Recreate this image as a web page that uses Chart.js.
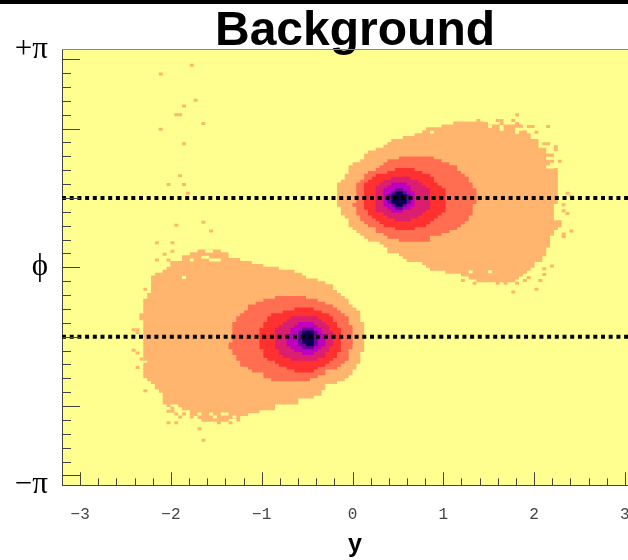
<!DOCTYPE html>
<html>
<head>
<meta charset="utf-8">
<style>
html, body { margin: 0; padding: 0; background: #fff; overflow: hidden; width: 628px; height: 560px; }
#topbar { position: absolute; left: 0; top: 0; width: 628px; height: 4px; background: #000; }
#wrap { position: absolute; left: 0; top: 0; width: 628px; height: 560px; overflow: hidden; }
</style>
<script src="https://cdn.jsdelivr.net/npm/chart.js@4/dist/chart.umd.min.js"></script>
</head>
<body>
<div id="wrap"><canvas id="chart" width="777" height="560"></canvas></div>
<div id="topbar"></div>
<script>
// tick labels
var xTicks = [-3, -2, -1, 0, 1, 2, 3];
var yTicks = [-Math.PI, 0, Math.PI];
var yTickLabels = ["\u2212\u03C0", "\u03D5", "+\u03C0"];
var dottedPhi = [1, -1];

// histogram is 150 x 150 bins. rows are [row from the top, first bin edge, last bin edge]
var orangeRight = [[25,101,109],[26,98,119],[27,94,119],[28,93,120],[29,91,121],[30,88,121],[31,85,123],[32,84,123],[33,83,123],[34,81,125],[35,79,125],[36,78,127],[37,78,127],[38,77,127],[39,75,127],[40,74,127],[41,74,128],[42,74,128],[43,73,128],[44,73,128],[45,72,128],[46,71,128],[47,71,128],[48,71,128],[49,71,128],[50,71,128],[51,71,128],[52,71,128],[53,71,127],[54,72,127],[55,72,127],[56,72,127],[57,73,127],[58,74,127],[59,74,129],[60,74,129],[61,75,128],[62,76,127],[63,77,127],[64,78,126],[65,79,126],[66,82,126],[67,83,126],[68,84,125],[69,84,125],[70,87,125],[71,88,124],[72,89,124],[73,93,122],[74,94,122],[75,95,121],[76,99,120],[77,103,119],[78,105,118],[79,107,117]];
var orangeLeft = [[69,35,41],[70,33,43],[71,31,43],[72,31,46],[73,28,49],[74,28,52],[75,27,56],[76,26,60],[77,24,62],[78,23,63],[79,23,66],[80,23,68],[81,23,70],[82,23,70],[83,23,71],[84,22,72],[85,22,73],[86,21,74],[87,21,74],[88,21,75],[89,21,76],[90,21,77],[91,20,77],[92,20,77],[93,21,77],[94,21,78],[95,21,78],[96,21,78],[97,21,78],[98,21,78],[99,21,78],[100,21,78],[101,21,78],[102,21,78],[103,21,78],[104,21,77],[105,21,77],[106,21,77],[107,22,77],[108,21,76],[109,21,76],[110,21,75],[111,21,75],[112,21,74],[113,22,73],[114,23,71],[115,24,68],[116,25,68],[117,25,67],[118,26,67],[119,26,65],[120,26,61],[121,26,61],[122,30,55],[123,31,55],[124,33,51],[125,34,48],[126,35,46],[127,36,43]];
// single stray bins, [row, bin]
var orangeStray = [[5,33],[8,25],[17,34],[19,31],[22,29],[22,30],[25,36],[27,25],[32,31],[43,30],[46,27],[46,31],[49,32],[60,29],[59,36],[62,38],[66,24],[66,28],[69,28],[70,26],[72,24],[72,27],[73,28],[76,26],[82,21],[86,21],[96,18],[96,19],[97,19],[103,18],[104,19],[106,20],[109,19],[117,21],[116,24],[128,27],[128,29],[130,35],[134,36],[128,40],[128,43],
  [122,27],[123,28],[124,27],[124,28],[125,29],[126,30],[125,31],[125,33],[126,33],[127,45],
  [24,107],[24,112],[24,113],[22,117],[24,116],[25,117],[25,109],[25,113],[26,120],[26,121],[26,125],[28,122],[32,124],[32,125],[33,127],[34,127],[38,128],[49,130],[50,131],[53,129],[55,129],[56,130],[62,131],[63,129],[64,129],[74,126],[75,124],[77,124],[79,123],[82,122],[80,117],[83,116],[80,114],[80,112],[79,111],[80,106],[79,103],[78,120],[79,119]];
// yellow bins left open inside the orange, [row, bin]
var orangeHoles = [[28,95],[78,31],[71,36],[71,37],[69,37],[69,38],[72,33],[72,38],[72,39],[72,40],[125,35],[125,38],[125,41],[125,42],[126,39],[126,44],
  [26,110],[26,113],[27,113],[27,117],[27,118],[28,117],[37,125],[37,126],[39,126],[40,125],[40,126],[76,105],[76,110]];

var coralRight = [[37,87,96],[38,84,98],[39,83,100],[40,82,102],[41,81,102],[42,79,103],[43,78,104],[44,78,105],[45,77,105],[46,76,106],[47,76,106],[48,76,107],[49,76,107],[50,76,107],[51,76,107],[52,76,107],[53,75,106],[54,76,106],[55,76,106],[56,76,106],[57,77,105],[58,77,105],[59,78,104],[60,79,103],[61,81,102],[62,81,100],[63,83,98],[64,84,95],[65,87,95]];
var coralLeft = [[85,55,63],[86,52,66],[87,50,68],[88,48,70],[89,48,71],[90,47,72],[91,46,73],[92,45,74],[93,45,74],[94,44,74],[95,44,75],[96,44,75],[97,44,75],[98,44,75],[99,44,75],[100,44,75],[101,43,75],[102,43,75],[103,44,74],[104,44,74],[105,45,74],[106,45,74],[107,46,73],[108,46,72],[109,48,71],[110,49,68],[111,52,68],[112,52,66],[113,54,64]];
var redRight = [[41,86,91],[42,84,93],[43,81,95],[44,80,96],[45,79,96],[46,78,97],[47,78,98],[48,78,99],[49,78,99],[50,78,99],[51,78,99],[52,78,99],[53,78,99],[54,78,99],[55,79,99],[56,79,98],[57,80,97],[58,81,96],[59,82,95],[60,83,94],[61,86,91]];
var redLeft = [[89,60,65],[90,57,67],[91,54,69],[92,53,70],[93,53,70],[94,52,71],[95,52,71],[96,51,72],[97,51,72],[98,51,72],[99,51,72],[100,51,72],[101,51,72],[102,51,72],[103,52,72],[104,52,71],[105,52,71],[106,53,70],[107,55,69],[108,56,68],[109,58,66],[110,60,65]];
var crimsonRight = [[44,85,90],[45,83,92],[46,82,93],[47,81,94],[48,81,95],[49,81,95],[50,81,95],[51,81,95],[52,81,95],[53,81,95],[54,81,95],[55,81,94],[56,83,93],[57,84,92],[58,86,90]];
var crimsonLeft = [[92,59,66],[93,58,67],[94,57,68],[95,56,69],[96,55,69],[97,55,70],[98,55,70],[99,55,70],[100,55,70],[101,55,70],[102,55,69],[103,56,69],[104,56,68],[105,57,68],[106,59,66]];
var magentaRight = [[46,85,89],[47,84,90],[48,83,90],[49,83,91],[50,83,91],[51,83,91],[52,83,91],[53,83,91],[54,84,90],[55,85,88]];
var magentaLeft = [[94,61,65],[95,60,66],[96,59,67],[97,59,67],[98,58,68],[99,58,68],[100,58,68],[101,58,68],[102,59,67],[103,60,66],[104,62,65]];
var purpleRight = [[48,86,88],[49,85,89],[50,84,90],[51,84,90],[52,84,90],[53,85,89],[54,86,88]];
var purpleLeft = [[96,62,65],[97,61,66],[98,61,66],[99,61,66],[100,61,66],[101,61,66],[102,62,65]];
var navyRight = [[49,86,88],[50,85,89],[51,85,89],[52,85,89],[53,86,88]];
var navyLeft = [[97,62,65],[98,62,65],[99,62,65],[100,62,65],[101,63,65]];

function binX(i) { return -3.2 + i * 6.4 / 150; }
function binPhi(r) { return Math.PI - (r + 0.5) * 2 * Math.PI / 150; }
function toBars(rows) {
    return rows.map(function (r) { return { x: [binX(r[1]), binX(r[2])], y: binPhi(r[0]) }; });
}
function cellBars(cells) {
    return cells.map(function (c) { return { x: [binX(c[1]), binX(c[1] + 1)], y: binPhi(c[0]) }; });
}
// rows overlap a little so no seams show between them
function level(rows, color, order, thick) {
    return { type: "bar", data: rows, backgroundColor: color, barThickness: thick || 3.9, inflateAmount: 0, borderWidth: 0, grouped: false, order: order };
}
function dotted(phi) {
    return {
        type: "line", data: [{ x: -3.2, y: phi }, { x: 3.2, y: phi }], borderColor: "#000", borderWidth: 4,
        borderDash: [4, 3.7], pointRadius: 0, fill: false, order: 0
    };
}

var frame = {
    id: "frame",
    // before the title, its g hangs over the plot
    beforeDraw: function (c) {
        var a = c.chartArea, g = c.ctx;
        g.save();
        g.fillStyle = "#FFFF8F";
        g.fillRect(a.left, a.top, a.right - a.left, a.bottom - a.top);
        g.restore();
    },
    afterDatasetsDraw: function (c) {
        // inward ticks, ROOT style
        var a = c.chartArea, g = c.ctx, i, p;
        g.save();
        g.strokeStyle = "#444";
        g.lineWidth = 1;
        g.beginPath();
        for (i = -15; i <= 15; i++) {
            p = Math.round(c.scales.y.getPixelForValue(i / 5)) + 0.5;
            g.moveTo(a.left, p);
            g.lineTo(a.left + (i % 5 === 0 ? 18 : 9), p);
            p = Math.round(c.scales.x.getPixelForValue(i / 5)) + 0.5;
            g.moveTo(p, a.bottom);
            g.lineTo(p, a.bottom - (i % 5 === 0 ? 13 : 7));
        }
        g.stroke();
        g.strokeStyle = "#888";
        g.beginPath();
        g.moveTo(a.left, Math.round(a.top) + 0.5);
        g.lineTo(a.right, Math.round(a.top) + 0.5);
        g.stroke();
        g.restore();
    }
};

new Chart(document.getElementById("chart").getContext("2d"), {
    type: "bar",
    plugins: [frame],
    data: {
        datasets: [
            dotted(dottedPhi[0]),
            dotted(dottedPhi[1]),
            level(toBars(navyRight.concat(navyLeft)), "#0A0050", 1),
            level(toBars(purpleRight.concat(purpleLeft)), "#6E00A0", 2),
            level(toBars(magentaRight.concat(magentaLeft)), "#BE00BE", 3),
            level(toBars(crimsonRight.concat(crimsonLeft)), "#DC1E6E", 4),
            level(toBars(redRight.concat(redLeft)), "#FF3030", 5),
            level(toBars(coralRight.concat(coralLeft)), "#FF6E50", 6),
            level(cellBars(orangeHoles), "#FFFF8F", 7, 3),
            level(cellBars(orangeStray), "#FFB56E", 8, 3),
            level(toBars(orangeRight.concat(orangeLeft)), "#FFB56E", 9)
        ]
    },
    options: {
        indexAxis: "y",
        responsive: false,
        animation: false,
        layout: { padding: { right: 129 } },
        plugins: {
            legend: { display: false },
            tooltip: { enabled: false },
            title: {
                display: true,
                fullSize: false,
                text: "Background",
                color: "#000",
                font: { family: "Liberation Sans", size: 48, weight: "bold", lineHeight: 0.737 },
                padding: { top: 14, bottom: 0 }
            }
        },
        scales: {
            x: {
                type: "linear",
                min: -3.2,
                max: 3.255,
                offset: false,
                grid: { display: false, drawTicks: false },
                border: { display: true, color: "#444" },
                afterBuildTicks: function (s) { s.ticks = xTicks.map(function (v) { return { value: v }; }); },
                afterFit: function (s) { s.height = 74.7; },
                ticks: {
                    padding: 20,
                    maxRotation: 0,
                    autoSkip: false,
                    color: "#444",
                    font: { family: "Liberation Mono", size: 16 },
                    callback: function (v) { return String(v).replace("-", "\u2212"); }
                },
                title: {
                    display: true,
                    text: "y",
                    color: "#000",
                    font: { family: "Liberation Sans", size: 25, weight: "bold" },
                    padding: { top: -5, bottom: 0 }
                }
            },
            y: {
                type: "linear",
                min: -Math.PI,
                max: Math.PI,
                offset: false,
                grid: { display: false, drawTicks: false },
                border: { display: true, color: "#444" },
                afterBuildTicks: function (s) { s.ticks = yTicks.map(function (v) { return { value: v }; }); },
                afterFit: function (s) { s.width = 62; },
                ticks: {
                    padding: 14,
                    autoSkip: false,
                    color: "#000",
                    font: { family: "Liberation Serif", size: 31 },
                    callback: function (v, i) { return yTickLabels[i]; }
                }
            }
        }
    }
});
</script>
</body>
</html>
